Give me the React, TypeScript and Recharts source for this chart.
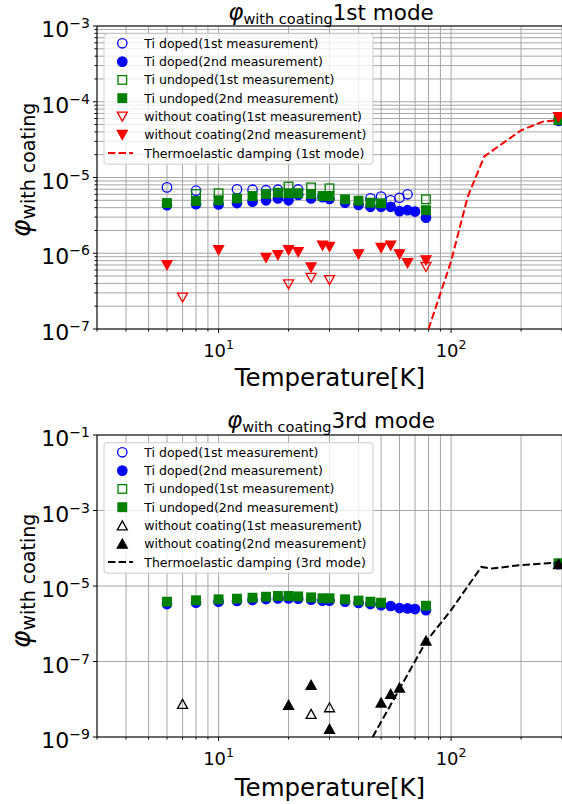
import React from "react";
import { ScatterChart, Scatter, XAxis, YAxis, CartesianGrid, ReferenceLine } from "recharts";

const FONT = "'DejaVu Sans', sans-serif";
const LEFT = 97;

// x axis (temperature, K)
const xTicks = [3, 4, 5, 6, 7, 8, 9, 10, 20, 30, 40, 50, 60, 70, 80, 90, 100, 200, 300];
const xLabeled = [10, 100];

// ---- 1st mode ----
const m1DopedT1 = [6, 8, 12, 14, 16, 18, 22, 45, 50, 55, 60, 65];
const m1DopedPhi1 = [7.4e-6, 6.7e-6, 7.0e-6, 6.9e-6, 6.8e-6, 6.9e-6, 6.95e-6, 5.3e-6, 5.6e-6, 5.0e-6, 5.4e-6, 6.0e-6];
const m1DopedT2 = [6, 8, 10, 12, 14, 16, 18, 20, 22, 25, 28, 30, 35, 40, 45, 50, 55, 60, 65, 70, 78, 290];
const m1DopedPhi2 = [4.3e-6, 4.45e-6, 4.4e-6, 4.6e-6, 4.8e-6, 5.0e-6, 5.3e-6, 5.0e-6, 5.9e-6, 5.3e-6, 5.5e-6, 5.2e-6, 4.65e-6, 4.34e-6, 4.1e-6, 4.1e-6, 4.1e-6, 3.6e-6, 3.7e-6, 3.55e-6, 2.95e-6, 5.6e-5];
const m1UndopedT1 = [8, 10, 20, 25, 30, 78];
const m1UndopedPhi1 = [6.05e-6, 6.2e-6, 7.6e-6, 7.4e-6, 7.2e-6, 5.15e-6];
const m1UndopedT2 = [6, 8, 10, 12, 14, 16, 18, 20, 22, 25, 28, 30, 35, 40, 45, 50, 78, 290];
const m1UndopedPhi2 = [4.6e-6, 4.9e-6, 5.0e-6, 5.3e-6, 5.7e-6, 6.05e-6, 6.3e-6, 6.2e-6, 6.2e-6, 6.05e-6, 5.7e-6, 5.7e-6, 5.15e-6, 4.94e-6, 4.65e-6, 4.57e-6, 3.7e-6, 5.7e-5];
const m1BareT1 = [7, 20, 25, 30, 78];
const m1BarePhi1 = [2.6e-7, 3.9e-7, 4.75e-7, 4.43e-7, 6.6e-7];
const m1BareT2 = [6, 10, 16, 18, 20, 22, 25, 28, 30, 40, 50, 55, 60, 65, 78, 290];
const m1BarePhi2 = [7.0e-7, 1.1e-6, 8.7e-7, 9.5e-7, 1.1e-6, 1.04e-6, 6.5e-7, 1.26e-6, 1.22e-6, 9.7e-7, 1.18e-6, 1.26e-6, 9.7e-7, 7.4e-7, 8.1e-7, 6.3e-5];
const m1TedT = [80, 100, 118, 139, 200, 250, 290];
const m1TedPhi = [1e-7, 7.8e-7, 5.6e-6, 1.9e-5, 4.2e-5, 5.5e-5, 5.7e-5];

// ---- 3rd mode ----
const m3DopedT2 = [6, 8, 10, 12, 14, 16, 18, 20, 22, 25, 28, 30, 35, 40, 45, 50, 55, 60, 65, 70, 78, 290];
const m3DopedPhi2 = [3.33e-6, 3.6e-6, 3.85e-6, 4.0e-6, 4.25e-6, 4.5e-6, 4.7e-6, 4.7e-6, 4.6e-6, 4.35e-6, 4.1e-6, 4.1e-6, 3.85e-6, 3.55e-6, 3.33e-6, 3.1e-6, 2.95e-6, 2.6e-6, 2.55e-6, 2.45e-6, 2.3e-6, 3.8e-5];
const m3UndopedT2 = [6, 8, 10, 12, 14, 16, 18, 20, 22, 25, 28, 30, 35, 40, 45, 50, 78, 290];
const m3UndopedPhi2 = [3.84e-6, 4.18e-6, 4.44e-6, 4.61e-6, 4.9e-6, 5.2e-6, 5.43e-6, 5.43e-6, 5.3e-6, 5.0e-6, 4.72e-6, 4.72e-6, 4.44e-6, 4.1e-6, 3.84e-6, 3.61e-6, 3.0e-6, 4.0e-5];
const m3BareT1 = [7, 25, 30];
const m3BarePhi1 = [7.5e-9, 4.07e-9, 6.1e-9];
const m3BareT2 = [20, 25, 30, 50, 55, 60, 78, 290];
const m3BarePhi2 = [7.05e-9, 2.38e-8, 1.63e-9, 8.1e-9, 1.38e-8, 2.02e-8, 3.56e-7, 3.8e-5];
const m3TedT = [46, 78, 100, 135, 150, 200, 290];
const m3TedPhi = [1e-9, 3.35e-7, 2.3e-6, 3.2e-5, 2.9e-5, 3.6e-5, 4.2e-5];

// y ticks
const m1Decades = [1e-7, 1e-6, 1e-5, 1e-4, 1e-3];
const m1YTicks = m1Decades.slice(0, 4).flatMap((d) => [1, 2, 3, 4, 5, 6, 7, 8, 9].map((k) => k * d)).concat([1e-3]);
const m3YTicks = [1e-9, 1e-7, 1e-5, 1e-3, 1e-1];

const legendNames = [
  "Ti doped(1st measurement)",
  "Ti doped(2nd measurement)",
  "Ti undoped(1st measurement)",
  "Ti undoped(2nd measurement)",
  "without coating(1st measurement)",
  "without coating(2nd measurement)",
];

const pts = (t: number[], v: number[]) => t.map((x, i) => ({ x, y: v[i] }));

function Marker({ cx, cy, kind, color, filled }: any) {
  const fill = filled ? color : "none";
  const sw = 1.3;
  if (kind === "circle") return <circle cx={cx} cy={cy} r={4.7} fill={fill} stroke={color} strokeWidth={sw} />;
  if (kind === "square") return <rect x={cx - 4.3} y={cy - 4.3} width={8.6} height={8.6} fill={fill} stroke={color} strokeWidth={sw} />;
  if (kind === "down")
    return <polygon points={`${cx - 5},${cy - 4.4} ${cx + 5},${cy - 4.4} ${cx},${cy + 4.6}`} fill={fill} stroke={color} strokeWidth={sw} />;
  return <polygon points={`${cx - 5},${cy + 4.4} ${cx + 5},${cy + 4.4} ${cx},${cy - 4.6}`} fill={fill} stroke={color} strokeWidth={sw} />;
}

const expOf = (v: number) => Math.round(Math.log10(v));
const sup = (e: number) => (e < 0 ? "\u2212" + Math.abs(e) : String(e));

function XTick({ x, payload, bottom }: any) {
  const v = payload.value;
  const major = xLabeled.includes(v);
  return (
    <g>
      <line x1={x} x2={x} y1={bottom} y2={bottom + (major ? 4 : 2.5)} stroke="#000" strokeWidth={1} />
      {major && (
        <text x={x} y={bottom + 28} textAnchor="middle" fontSize={18} fontFamily={FONT} fill="#000">
          10<tspan dy={-8} fontSize={12.5}>{sup(expOf(v))}</tspan>
        </text>
      )}
    </g>
  );
}

function YTick({ y, payload, labeled }: any) {
  const v = payload.value;
  const major = labeled.some((d: number) => Math.abs(d - v) / d < 1e-6);
  return (
    <g>
      <line x1={LEFT - (major ? 4 : 2.5)} x2={LEFT} y1={y} y2={y} stroke="#000" strokeWidth={1} />
      {major && (
        <text x={LEFT - 7} y={y + 11} textAnchor="end" fontSize={22} fontFamily={FONT} fill="#000">
          10<tspan dy={-9} fontSize={14}>{sup(expOf(v))}</tspan>
        </text>
      )}
    </g>
  );
}

function Panel({ height, marginTop, marginBottom, yDomain, yTicks, yLabeled, series, ted }: any) {
  const plotBottom = height - marginBottom - 40;
  return (
    <ScatterChart width={562} height={height} margin={{ top: marginTop, right: 0, bottom: marginBottom, left: 0 }}>
      <CartesianGrid stroke="#a6a6a6" strokeWidth={1} />
      <XAxis
        type="number"
        dataKey="x"
        scale="log"
        domain={[3, 300]}
        allowDataOverflow
        ticks={xTicks}
        interval={0}
        height={40}
        axisLine={{ stroke: "#000" }}
        tickLine={false}
        tick={(p: any) => <XTick {...p} bottom={plotBottom} />}
      />
      <YAxis
        type="number"
        dataKey="y"
        scale="log"
        domain={yDomain}
        allowDataOverflow
        ticks={yTicks}
        interval={0}
        width={LEFT}
        axisLine={{ stroke: "#000" }}
        tickLine={false}
        tick={(p: any) => <YTick {...p} labeled={yLabeled} />}
      />
      <ReferenceLine y={yDomain[1]} stroke="#000" strokeWidth={1} />
      {series.map((s: any) => (
        <Scatter
          key={s.name}
          name={s.name}
          data={pts(s.t, s.phi)}
          isAnimationActive={false}
          shape={(p: any) => <Marker cx={p.cx} cy={p.cy} kind={s.kind} color={s.color} filled={s.filled} />}
        />
      ))}
      <Scatter
        name={ted.name}
        data={pts(ted.t, ted.phi)}
        isAnimationActive={false}
        line={{ stroke: ted.color, strokeWidth: 2, strokeDasharray: "7.4 3.2" }}
        shape={() => <g />}
      />
    </ScatterChart>
  );
}

function LegendBox({ x, y, series, ted }: any) {
  const rows = [...series, { ...ted, line: true }];
  const step = 18.3;
  return (
    <g>
      <rect x={x} y={y} width={269} height={130.5} rx={3} fill="#fff" fillOpacity={0.8} stroke="#cccccc" strokeWidth={1} />
      {rows.map((r: any, i: number) => {
        const cy = y + 9.6 + i * step;
        return (
          <g key={i}>
            {r.line ? (
              <line x1={x + 4} x2={x + 29} y1={cy} y2={cy} stroke={r.color} strokeWidth={2} strokeDasharray="7.4 3.2" />
            ) : (
              <Marker cx={x + 18.3} cy={cy} kind={r.kind} color={r.color} filled={r.filled} />
            )}
            <text x={x + 40.3} y={cy + 4.5} fontSize={12.5} fontFamily={FONT} fill="#000">
              {r.name}
            </text>
          </g>
        );
      })}
    </g>
  );
}

function Title({ y, mode }: any) {
  return (
    <text x={331} y={y} textAnchor="middle" fontFamily={FONT} fill="#000">
      <tspan fontStyle="italic" fontSize={23}>φ</tspan>
      <tspan fontSize={14.5} dy={3.5}>with  coating</tspan>
      <tspan fontSize={21.5} dy={-3.5}>{mode}</tspan>
    </text>
  );
}

function YLabel({ cy }: any) {
  return (
    <text transform={`translate(30, ${cy}) rotate(-90)`} textAnchor="middle" fontFamily={FONT} fill="#000">
      <tspan fontStyle="italic" fontSize={27}>φ</tspan>
      <tspan fontSize={19} dy={5}>with coating</tspan>
    </text>
  );
}

function XLabel({ y }: any) {
  return (
    <text x={330} y={y} textAnchor="middle" fontSize={24.5} fontFamily={FONT} fill="#000">
      Temperature[K]
    </text>
  );
}

export default function App() {
  const s1 = [
    { name: legendNames[0], t: m1DopedT1, phi: m1DopedPhi1, kind: "circle", color: "#0000ff", filled: false },
    { name: legendNames[1], t: m1DopedT2, phi: m1DopedPhi2, kind: "circle", color: "#0000ff", filled: true },
    { name: legendNames[2], t: m1UndopedT1, phi: m1UndopedPhi1, kind: "square", color: "#008000", filled: false },
    { name: legendNames[3], t: m1UndopedT2, phi: m1UndopedPhi2, kind: "square", color: "#008000", filled: true },
    { name: legendNames[4], t: m1BareT1, phi: m1BarePhi1, kind: "down", color: "#ff0000", filled: false },
    { name: legendNames[5], t: m1BareT2, phi: m1BarePhi2, kind: "down", color: "#ff0000", filled: true },
  ];
  const ted1 = { name: "Thermoelastic damping (1st mode)", t: m1TedT, phi: m1TedPhi, color: "#ff0000" };
  const s3 = [
    { name: legendNames[0], t: [], phi: [], kind: "circle", color: "#0000ff", filled: false },
    { name: legendNames[1], t: m3DopedT2, phi: m3DopedPhi2, kind: "circle", color: "#0000ff", filled: true },
    { name: legendNames[2], t: [], phi: [], kind: "square", color: "#008000", filled: false },
    { name: legendNames[3], t: m3UndopedT2, phi: m3UndopedPhi2, kind: "square", color: "#008000", filled: true },
    { name: legendNames[4], t: m3BareT1, phi: m3BarePhi1, kind: "up", color: "#000000", filled: false },
    { name: legendNames[5], t: m3BareT2, phi: m3BarePhi2, kind: "up", color: "#000000", filled: true },
  ];
  const ted3 = { name: "Thermoelastic damping (3rd mode)", t: m3TedT, phi: m3TedPhi, color: "#000000" };

  return (
    <div style={{ position: "absolute", left: 0, top: 0, width: 562, height: 804, background: "#fff", overflow: "hidden" }}>
      <div style={{ position: "absolute", left: 0, top: 0 }}>
        <Panel height={400} marginTop={26} marginBottom={31} yDomain={[1e-7, 1e-3]} yTicks={m1YTicks} yLabeled={m1Decades} series={s1} ted={ted1} />
      </div>
      <div style={{ position: "absolute", left: 0, top: 400 }}>
        <Panel height={404} marginTop={35} marginBottom={27} yDomain={[1e-9, 1e-1]} yTicks={m3YTicks} yLabeled={m3YTicks} series={s3} ted={ted3} />
      </div>
      <svg width={562} height={804} style={{ position: "absolute", left: 0, top: 0, pointerEvents: "none" }}>
        <Title y={20} mode="1st mode" />
        <Title y={428} mode="3rd mode" />
        <YLabel cy={170} />
        <YLabel cy={581} />
        <XLabel y={386} />
        <XLabel y={796} />
        <LegendBox x={104} y={33.7} series={s1} ted={ted1} />
        <LegendBox x={104} y={442.7} series={s3} ted={ted3} />
      </svg>
    </div>
  );
}
